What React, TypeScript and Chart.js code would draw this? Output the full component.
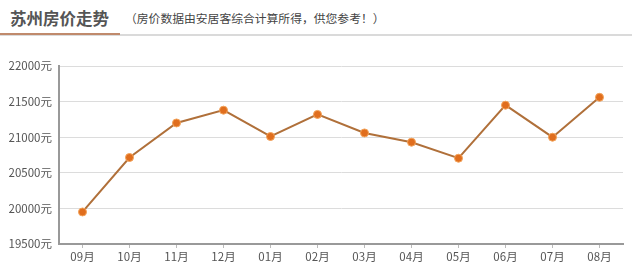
import React, { useEffect, useRef } from "react";
import { Chart, registerables } from "chart.js";

Chart.register(...registerables);

const months = ["09月", "10月", "11月", "12月", "01月", "02月", "03月", "04月", "05月", "06月", "07月", "08月"];
const prices = [19950, 20715, 21200, 21380, 21010, 21320, 21060, 20930, 20705, 21450, 21000, 21560];
const yMin = 19500;
const yMax = 22000;
const yStep = 500;
const titleText = "苏州房价走势";
const subtitleText = "（房价数据由安居客综合计算所得，供您参考！）";

const FONT = "'Noto Sans CJK SC', 'Noto Sans', sans-serif";

export default function App() {
  const ref = useRef<HTMLCanvasElement | null>(null);

  useEffect(() => {
    document.body.style.margin = "0";
    if (!ref.current) return;
    const chart = new Chart(ref.current, {
      type: "line",
      data: {
        labels: months,
        datasets: [
          {
            data: prices,
            borderColor: "#b0703a",
            borderWidth: 2,
            backgroundColor: "#e06e1e",
            pointBackgroundColor: "#e06e1e",
            pointBorderColor: "#f3a35a",
            pointBorderWidth: 1,
            pointRadius: 4,
            tension: 0,
          },
        ],
      },
      options: {
        animation: false,
        responsive: false,
        maintainAspectRatio: false,
        layout: { padding: { top: 26, right: 9, left: 0, bottom: 0 } },
        plugins: { legend: { display: false }, tooltip: { enabled: false }, title: { display: false } },
        scales: {
          x: {
            type: "category",
            offset: true,
            afterFit: (s: any) => {
              s.height = 28;
            },
            grid: {
              display: true,
              drawOnChartArea: false,
              drawTicks: true,
              tickLength: 4,
              offset: false,
              color: "#bbb",
            },
            border: { display: true, color: "#999", width: 2 },
            ticks: { color: "#555", font: { family: FONT, size: 11.5 }, padding: 2, maxRotation: 0 },
          },
          y: {
            min: yMin,
            max: yMax,
            afterFit: (s: any) => {
              s.width = 59;
            },
            grid: { color: "#dcdcdc", drawTicks: false, lineWidth: 1 },
            border: { display: true, color: "#999", width: 2 },
            ticks: {
              stepSize: yStep,
              color: "#555",
              padding: 7,
              font: { family: FONT, size: 11.5 },
              callback: (v: any) => v + "元",
            },
          },
        },
      },
    });
    return () => chart.destroy();
  }, []);

  return (
    <div style={{ position: "relative", width: 632, height: 272, background: "#fff", overflow: "hidden" }}>
      <div
        style={{
          position: "absolute",
          left: 10,
          top: 7,
          fontFamily: FONT,
          fontSize: 16.5,
          fontWeight: 700,
          color: "#555",
          lineHeight: "22px",
          whiteSpace: "nowrap",
        }}
      >
        {titleText}
      </div>
      <div
        style={{
          position: "absolute",
          left: 125,
          top: 10,
          fontFamily: FONT,
          fontSize: 11.8,
          color: "#444",
          lineHeight: "16px",
          whiteSpace: "nowrap",
        }}
      >
        {subtitleText}
      </div>
      <div style={{ position: "absolute", left: 0, top: 34, width: 632, height: 2, background: "#dadada" }} />
      <div style={{ position: "absolute", left: 0, top: 33, width: 120, height: 2, background: "#c08a6c" }} />
      <canvas ref={ref} width={632} height={232} style={{ position: "absolute", left: 0, top: 40, display: "block" }} />
    </div>
  );
}
